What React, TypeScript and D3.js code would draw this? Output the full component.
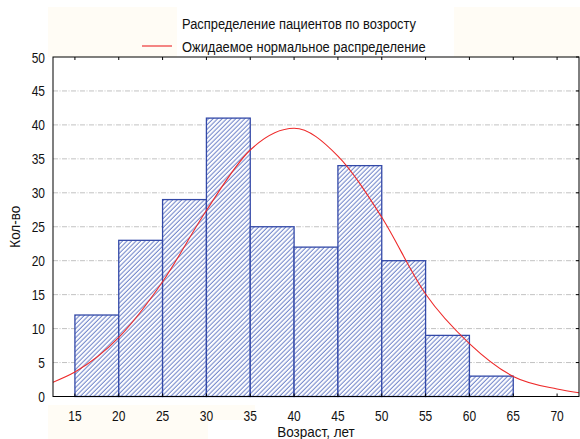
import React, { useEffect, useRef } from 'react';
import * as d3 from 'd3';

// histogram bins (age, years) and patient counts
const binEdges = [15, 20, 25, 30, 35, 40, 45, 50, 55, 60, 65];
const binCounts = [12, 23, 29, 41, 25, 22, 34, 20, 9, 3];

// expected normal curve
const curveAge = [12.5, 15, 20, 25, 30, 35, 40, 45, 50, 55, 60, 65, 70, 72.5];
const curveCount = [2.1, 3.6, 8.7, 16.9, 27.4, 36.3, 39.5, 35.4, 26.4, 15.1, 7.8, 2.95, 1.1, 0.55];

const xTicks = [15, 20, 25, 30, 35, 40, 45, 50, 55, 60, 65, 70];
const yTicks = [0, 5, 10, 15, 20, 25, 30, 35, 40, 45, 50];

const titleText = 'Распределение пациентов по возросту';
const curveLabel = 'Ожидаемое нормальное распределение';
const xLabel = 'Возраст, лет';
const yLabel = 'Кол-во';

const FONT = '"Liberation Sans", Arial, sans-serif';

function Histogram({ width = 580, height = 439 }: { width?: number; height?: number }) {
  const svgRef = useRef<SVGSVGElement>(null);

  useEffect(() => {
    const svg = d3.select(svgRef.current);
    svg.selectAll('*').remove();

    const left = 53, right = 579, top = 57, bottom = 396.5;

    const x = d3.scaleLinear().domain([12.5, 72.5]).range([left, right]);
    const y = d3.scaleLinear().domain([0, 50]).range([bottom, top]);

    // the original uses a condensed face, so squeeze Liberation Sans horizontally
    const label = (g: any, tx: number, ty: number, txt: string, anchor: string,
                   size = 15, squeeze = 0.8, rot = 0) =>
      g.append('text')
        .attr('transform', `translate(${tx},${ty}) rotate(${rot}) scale(${squeeze},1)`)
        .attr('text-anchor', anchor)
        .style('font-family', FONT)
        .style('font-size', `${size}px`)
        .attr('fill', '#111')
        .text(txt);

    const defs = svg.append('defs');
    const pat = defs.append('pattern')
      .attr('id', 'hatch')
      .attr('patternUnits', 'userSpaceOnUse')
      .attr('width', 3.2)
      .attr('height', 3.2)
      .attr('patternTransform', 'rotate(45)');
    pat.append('rect').attr('width', 3.2).attr('height', 3.2).attr('fill', '#ffffff');
    pat.append('line')
      .attr('x1', 1).attr('y1', 0).attr('x2', 1).attr('y2', 3.2)
      .attr('stroke', '#5a72c2').attr('stroke-width', 0.9);

    defs.append('clipPath').attr('id', 'plotClip')
      .append('rect')
      .attr('x', left).attr('y', top)
      .attr('width', right - left).attr('height', bottom - top);

    // faint background bands
    svg.append('rect').attr('x', 48).attr('y', 7).attr('width', width - 48).attr('height', 50).attr('fill', '#fffcf5');
    svg.append('rect').attr('x', 177).attr('y', 7).attr('width', 277).attr('height', 50).attr('fill', '#ffffff');
    svg.append('rect').attr('x', 48).attr('y', 405).attr('width', 382).attr('height', height - 405).attr('fill', '#fffcf5');
    svg.append('rect').attr('x', 255).attr('y', 405).attr('width', 175).attr('height', 15).attr('fill', '#ffffff');
    svg.append('rect').attr('x', 208).attr('y', 420).attr('width', 222).attr('height', 19).attr('fill', '#ffffff');

    svg.append('rect')
      .attr('x', left).attr('y', top)
      .attr('width', right - left).attr('height', bottom - top)
      .attr('fill', '#ffffff');

    // grid
    svg.append('g')
      .selectAll('line')
      .data(yTicks.filter(t => t > 0 && t < 50))
      .enter()
      .append('line')
      .attr('x1', left).attr('x2', right)
      .attr('y1', d => y(d)).attr('y2', d => y(d))
      .attr('stroke', '#c2c2c2')
      .attr('stroke-width', 1)
      .attr('stroke-dasharray', '5,1.5,1,1.5');

    // bars
    svg.append('g')
      .selectAll('rect')
      .data(binCounts)
      .enter()
      .append('rect')
      .attr('x', (d, i) => x(binEdges[i]))
      .attr('y', d => y(d))
      .attr('width', (d, i) => x(binEdges[i + 1]) - x(binEdges[i]))
      .attr('height', d => bottom - y(d))
      .attr('fill', 'url(#hatch)')
      .attr('stroke', '#3349a8')
      .attr('stroke-width', 1.3);

    // normal curve
    const line = d3.line<number>()
      .x((d, i) => x(curveAge[i]))
      .y(d => y(d))
      .curve(d3.curveMonotoneX);

    svg.append('path')
      .datum(curveCount)
      .attr('clip-path', 'url(#plotClip)')
      .attr('d', line)
      .attr('fill', 'none')
      .attr('stroke', '#ee2a2a')
      .attr('stroke-width', 1.1);

    // frame
    svg.append('rect')
      .attr('x', left).attr('y', top)
      .attr('width', right - left).attr('height', bottom - top)
      .attr('fill', 'none')
      .attr('stroke', '#000')
      .attr('stroke-width', 1);

    // inward ticks on bottom, top, right
    const tickG = svg.append('g').attr('stroke', '#000').attr('stroke-width', 1);
    xTicks.forEach(t => {
      tickG.append('line').attr('x1', x(t)).attr('x2', x(t)).attr('y1', bottom).attr('y2', bottom - 3);
      tickG.append('line').attr('x1', x(t)).attr('x2', x(t)).attr('y1', top).attr('y2', top + 3);
    });
    yTicks.forEach(t => {
      tickG.append('line').attr('x1', right).attr('x2', right - 3).attr('y1', y(t)).attr('y2', y(t));
    });

    // tick labels
    const tl = svg.append('g');
    xTicks.forEach(t => label(tl, x(t), 421, String(t), 'middle'));
    yTicks.forEach(t => label(tl, 45, y(t) + 5.5, String(t), 'end'));

    // axis titles
    label(svg, (left + right) / 2, 437, xLabel, 'middle', 15, 0.9);
    label(svg, 20, (top + bottom) / 2, yLabel, 'middle', 15, 0.9, -90);

    // legend
    label(svg, 182, 29, titleText, 'start', 14.5, 0.89);
    svg.append('line')
      .attr('x1', 142).attr('x2', 172)
      .attr('y1', 46).attr('y2', 46)
      .attr('stroke', '#ee4444')
      .attr('stroke-width', 1.3);
    label(svg, 182, 52, curveLabel, 'start', 14.5, 0.89);
  }, [width, height]);

  return (
    <svg
      ref={svgRef}
      width={width}
      height={height}
      style={{ position: 'absolute', left: 0, top: 0, background: '#ffffff' }}
    ></svg>
  );
}

export default function App() {
  return <Histogram />;
}
